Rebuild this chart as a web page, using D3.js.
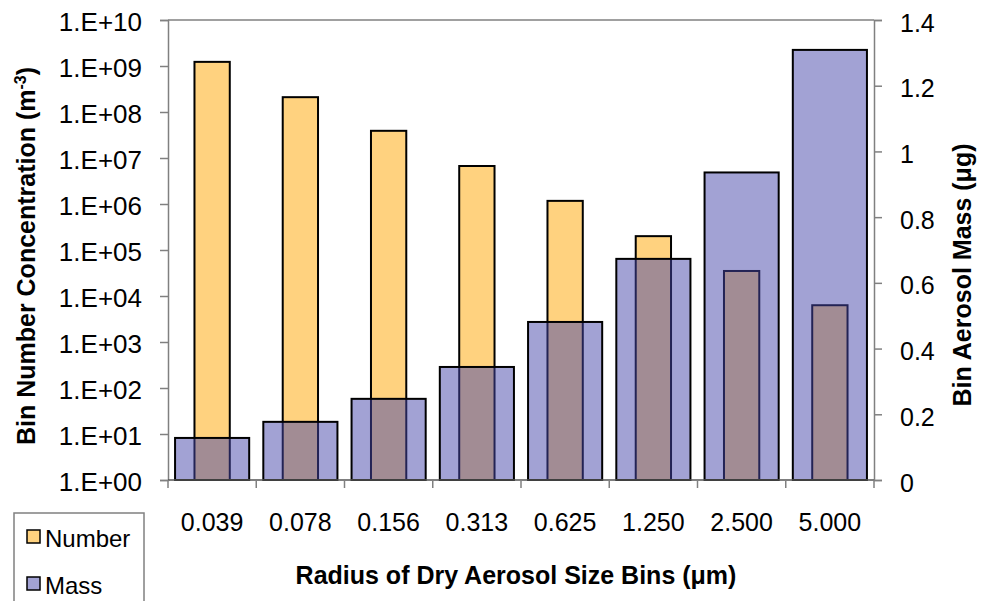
<!DOCTYPE html>
<html>
<head>
<meta charset="utf-8">
<script src="https://cdn.jsdelivr.net/npm/d3@7/dist/d3.min.js"></script>
<style>
  body { margin: 0; background: #fff; }
  svg { display: block; font-family: Arial, "Liberation Sans", sans-serif; }
</style>
</head>
<body>
<svg id="chart" width="982" height="601"></svg>
<script>
// size bins (radius, um)
var bins = ["0.039", "0.078", "0.156", "0.313", "0.625", "1.250", "2.500", "5.000"];
// bin number concentration (m^-3), left log axis
var numberVals = [1.23e9, 2.1e8, 3.9e7, 6.7e6, 1.17e6, 2.0e5, 3.5e4, 6.3e3];
// bin aerosol mass (ug), right linear axis
var massVals = [0.128, 0.177, 0.247, 0.344, 0.481, 0.673, 0.936, 1.309];
var logTicks = [1e0, 1e1, 1e2, 1e3, 1e4, 1e5, 1e6, 1e7, 1e8, 1e9, 1e10];
var massTicks = [0, 0.2, 0.4, 0.6, 0.8, 1, 1.2, 1.4];

var svg = d3.select("#chart"),
    margin = {top: 20, right: 108, bottom: 121, left: 168},
    width = +svg.attr("width") - margin.left - margin.right,
    height = +svg.attr("height") - margin.top - margin.bottom,
    g = svg.append("g").attr("transform", "translate(" + margin.left + "," + margin.top + ")");

var x = d3.scaleBand().domain(bins).range([0, width]).padding(0);
var xMass = d3.scaleBand().domain(bins).range([0, width]).paddingInner(0.16).paddingOuter(0.08);
var xNum = d3.scaleBand().domain(bins).range([0, width]).paddingInner(0.6).paddingOuter(0.3);

var yLog = d3.scaleLog().domain([1, 1e10]).range([height, 0]);
var yMass = d3.scaleLinear().domain([0, 1.4]).range([height, 0]);

var data = bins.map(function(b, i) { return {bin: b, num: numberVals[i], mass: massVals[i]}; });

// frame top line
g.append("line").attr("x1", 0).attr("x2", width).attr("y1", 0).attr("y2", 0)
    .attr("stroke", "#808080").attr("stroke-width", 1.5);

// number bars
g.selectAll(".num").data(data).enter().append("rect")
    .attr("class", "num")
    .attr("x", function(d) { return xNum(d.bin); })
    .attr("width", xNum.bandwidth())
    .attr("y", function(d) { return yLog(d.num); })
    .attr("height", function(d) { return yLog(1) - yLog(d.num); })
    .attr("fill", "#ffd27f")
    .attr("stroke", "#000").attr("stroke-width", 2);

// mass bars, semi-transparent over number bars
g.selectAll(".mass").data(data).enter().append("rect")
    .attr("class", "mass")
    .attr("x", function(d) { return xMass(d.bin); })
    .attr("width", xMass.bandwidth())
    .attr("y", function(d) { return yMass(d.mass); })
    .attr("height", function(d) { return yMass(0) - yMass(d.mass); })
    .attr("fill", "rgb(69,69,170)").attr("fill-opacity", 0.5)
    .attr("stroke", "#000").attr("stroke-width", 2);

// left axis
var gl = g.append("g").call(d3.axisLeft(yLog).tickValues(logTicks)
    .tickFormat(function(d) { return "1.E+" + d3.format("02d")(Math.round(Math.log10(d))); })
    .tickSize(8).tickPadding(18));
gl.select(".domain").attr("stroke", "#808080").attr("stroke-width", 1.5);
gl.selectAll(".tick line").attr("stroke", "#808080").attr("stroke-width", 1.5);
gl.selectAll("text").attr("font-size", 26).attr("fill", "#000").attr("dy", "0.4em")
    .attr("font-family", "Arial, 'Liberation Sans', sans-serif");

// right axis
var gr = g.append("g").attr("transform", "translate(" + width + ",0)")
    .call(d3.axisRight(yMass).tickValues(massTicks).tickFormat(d3.format("~g"))
    .tickSize(8).tickPadding(18));
gr.select(".domain").attr("stroke", "#808080").attr("stroke-width", 1.5);
gr.selectAll(".tick line").attr("stroke", "#808080").attr("stroke-width", 1.5);
gr.selectAll("text").attr("font-size", 25).attr("fill", "#000").attr("dy", "0.44em")
    .attr("font-family", "Arial, 'Liberation Sans', sans-serif");

// bottom axis: ticks at bin boundaries
var gb = g.append("g").attr("transform", "translate(0," + height + ")");
gb.append("line").attr("x1", 0).attr("x2", width).attr("stroke", "#555").attr("stroke-width", 1.5);
gb.selectAll(".bt").data(bins.concat(["end"])).enter().append("line")
    .attr("x1", function(d, i) { return i < bins.length ? x(d) : width; })
    .attr("x2", function(d, i) { return i < bins.length ? x(d) : width; })
    .attr("y1", 0).attr("y2", 8)
    .attr("stroke", "#808080").attr("stroke-width", 1.5);
gb.selectAll(".bl").data(bins).enter().append("text")
    .attr("x", function(d) { return x(d) + x.bandwidth() / 2; })
    .attr("y", 51)
    .attr("text-anchor", "middle").attr("font-size", 25)
    .text(function(d) { return d; });

// axis titles
svg.append("text")
    .attr("x", 516).attr("y", 584)
    .attr("text-anchor", "middle").attr("font-size", 25).attr("font-weight", "bold")
    .text("Radius of Dry Aerosol Size Bins (\u03bcm)");

var lt = svg.append("text")
    .attr("transform", "translate(35,256) rotate(-90)")
    .attr("text-anchor", "middle").attr("font-size", 25).attr("font-weight", "bold");
lt.append("tspan").text("Bin Number Concentration (m");
lt.append("tspan").attr("dy", -9).attr("font-size", 16).text("-3");
lt.append("tspan").attr("dy", 9).text(")");

svg.append("text")
    .attr("transform", "translate(971,275) rotate(-90)")
    .attr("text-anchor", "middle").attr("font-size", 25).attr("font-weight", "bold")
    .text("Bin Aerosol Mass (\u03bcg)");

// legend
var leg = svg.append("g");
leg.append("rect").attr("x", 14).attr("y", 513).attr("width", 130).attr("height", 100)
    .attr("fill", "#fff").attr("stroke", "#808080").attr("stroke-width", 1.5);
var legItems = [
  {label: "Number", fill: "#ffd27f"},
  {label: "Mass", fill: "#a2a2d4"}
];
var li = leg.selectAll(".li").data(legItems).enter().append("g")
    .attr("transform", function(d, i) { return "translate(27," + (530 + i * 47) + ")"; });
li.append("rect").attr("width", 13).attr("height", 13)
    .attr("fill", function(d) { return d.fill; })
    .attr("stroke", "#000").attr("stroke-width", 1.5);
li.append("text").attr("x", 18).attr("y", 17).attr("font-size", 24)
    .text(function(d) { return d.label; });
</script>
</body>
</html>
